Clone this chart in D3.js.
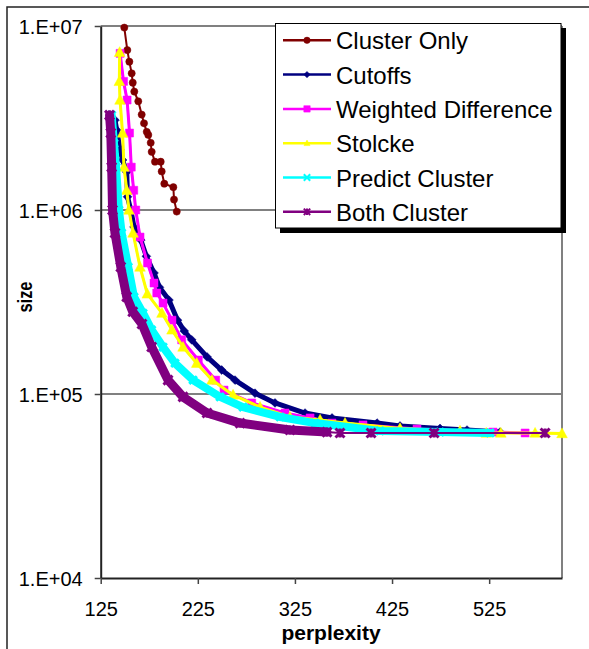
<!DOCTYPE html>
<html>
<head>
<meta charset="utf-8">
<script src="https://cdn.jsdelivr.net/npm/d3@7/dist/d3.min.js"></script>
<style>
  html, body { margin: 0; padding: 0; background: #fff; }
  svg { display: block; }
  text { font-family: "Liberation Sans", Arial, sans-serif; fill: #000; }
</style>
</head>
<body>
<svg id="chart" width="589" height="649"></svg>
<script>
// ---------- data ----------
const perplexityTicks = [125, 225, 325, 425, 525];
const sizeTicks = [1e4, 1e5, 1e6, 1e7];
const sizeTickLabels = ["1.E+04", "1.E+05", "1.E+06", "1.E+07"];
const seriesNames = ["Cluster Only", "Cutoffs", "Weighted Difference", "Stolcke", "Predict Cluster", "Both Cluster"];

// [perplexity, size]
const clusterOnly = [
  [149.3, 9.8e6], [152.4, 7.4e6], [154.5, 6.4e6], [156.9, 5.53e6], [158.0, 4.92e6],
  [159.6, 4.40e6], [163.7, 3.9e6], [167.2, 3.3e6], [169.6, 2.96e6], [172.4, 2.66e6],
  [174.0, 2.56e6], [176.5, 2.32e6], [177.5, 2.07e6], [180.9, 1.83e6], [186.8, 1.83e6],
  [187.8, 1.62e6], [190.5, 1.39e6], [199.8, 1.33e6], [200.5, 1.14e6], [203.3, 0.98e6]
];
const cutoffs = [
  [139.7, 3.08e6], [141.5, 2.72e6], [144.9, 2.12e6], [147.5, 1.87e6], [151.8, 1.61e6],
  [152.6, 1.18e6], [156.0, 1.0e6], [159.3, 8.09e5], [166.3, 6.87e5], [172.0, 5.6e5],
  [179.9, 4.55e5], [185.5, 3.8e5], [195.3, 3.24e5], [204.1, 2.52e5], [211.0, 2.2e5],
  [218.7, 1.97e5], [234.5, 1.59e5], [249.6, 1.35e5], [263.3, 1.19e5], [283.9, 1.01e5],
  [304.5, 8.94e4], [335.4, 7.88e4], [363.2, 7.41e4], [409.6, 6.95e4], [433.2, 6.7e4],
  [474.4, 6.5e4], [502.2, 6.37e4], [536.2, 6.21e4]
];
const weightedDifference = [
  [145.0, 7.1e6], [148.5, 5.0e6], [152.2, 3.96e6], [154.7, 2.62e6], [156.5, 1.71e6],
  [159.0, 1.28e6], [161.1, 1.0e6], [165.5, 7.13e5], [173.2, 5.15e5], [179.9, 4.01e5],
  [182.7, 3.54e5], [189.2, 3.12e5], [198.4, 2.52e5], [208.4, 1.97e5], [225.5, 1.53e5],
  [243.4, 1.19e5], [252.0, 1.05e5], [280.5, 8.94e4], [314.8, 7.88e4], [340.6, 7.41e4],
  [363.2, 6.95e4], [395.1, 6.79e4], [450.7, 6.45e4], [529.0, 6.21e4], [562.0, 6.14e4]
];
const stolcke = [
  [144.5, 7.2e6], [144.2, 5.0e6], [144.9, 3.96e6], [147.5, 2.62e6], [149.0, 1.71e6],
  [151.8, 1.28e6], [154.1, 1.0e6], [158.3, 7.5e5], [165.5, 4.9e5], [173.0, 3.5e5],
  [188.1, 2.75e5], [198.4, 2.23e5], [209.8, 1.80e5], [223.9, 1.47e5], [239.6, 1.19e5],
  [261.3, 9.88e4], [289.1, 8.49e4], [319.9, 7.5e4], [350.9, 7.23e4], [376.6, 6.95e4],
  [433.2, 6.5e4], [495.0, 6.3e4], [522.0, 6.14e4], [537.0, 6.14e4], [572.3, 6.14e4],
  [600.0, 6.1e4]
];
const predictCluster = [
  [136.3, 3.28e6], [138.7, 2.3e6], [140.8, 1.71e6], [143.8, 1.0e6], [146.6, 7.5e5],
  [153.4, 4.9e5], [159.3, 3.37e5], [168.6, 2.75e5], [177.5, 2.23e5], [189.2, 1.80e5],
  [201.5, 1.47e5], [220.1, 1.19e5], [247.9, 9.64e4], [271.5, 8.49e4], [309.7, 7.5e4],
  [345.7, 6.95e4], [412.6, 6.3e4], [474.4, 6.21e4], [526.0, 6.14e4]
];
const bothCluster = [
  [134.1, 3.28e6], [135.4, 2.62e6], [136.3, 1.71e6], [137.2, 1.0e6], [139.7, 7.5e5],
  [145.7, 4.9e5], [151.8, 3.37e5], [158.0, 2.8e5], [167.5, 2.4e5], [177.5, 1.80e5],
  [194.3, 1.19e5], [209.8, 9.64e4], [234.5, 7.88e4], [268.5, 6.95e4], [319.9, 6.37e4],
  [358.0, 6.21e4], [371.4, 6.14e4], [403.4, 6.14e4], [468.3, 6.14e4], [582.6, 6.14e4]
];
const seriesData = [clusterOnly, cutoffs, weightedDifference, stolcke, predictCluster, bothCluster];

// ---------- styles ----------
// bandTo: up to which perplexity the densely packed markers form a thick band
const styles = [
  { color: "#800000", marker: "circle",   size: 3.6, lineW: 2, bandTo: 0 },
  { color: "#000080", marker: "diamond",  size: 4.4, lineW: 5, bandTo: 9999 },
  { color: "#FF00FF", marker: "square",   size: 4.0, lineW: 3, bandTo: 9999 },
  { color: "#FFFF00", marker: "triangle", size: 5.6, lineW: 3, bandTo: 9999 },
  { color: "#00FFFF", marker: "x",        size: 3.8, lineW: 8, bandTo: 9999 },
  { color: "#800080", marker: "star",     size: 4.5, lineW: 9, bandTo: 361 }
];

function markerPath(type, s) {
  switch (type) {
    case "circle":   return `M${s},0A${s},${s} 0 1,1 ${-s},0A${s},${s} 0 1,1 ${s},0Z`;
    case "diamond":  return `M0,${-s}L${s},0L0,${s}L${-s},0Z`;
    case "square":   return `M${-s},${-s}h${2*s}v${2*s}h${-2*s}Z`;
    case "triangle": return `M0,${-s}L${s*0.95},${s*0.75}L${-s*0.95},${s*0.75}Z`;
    case "x":        return `M${-s},${-s}L${s},${s}M${-s},${s}L${s},${-s}`;
    case "star":     return `M${-s},${-s}L${s},${s}M${-s},${s}L${s},${-s}M0,${-s}V${s}`;
  }
}
const stroked = t => t === "x" || t === "star";

// ---------- layout ----------
const svg = d3.select("#chart");
const plotL = 100.7, plotR = 562, plotT = 26, plotB = 578;

const x = d3.scaleLinear().domain([125, 600]).range([plotL, plotR]);
const y = d3.scaleLog().domain([1e4, 1e7]).range([plotB, plotT]);

svg.append("rect").attr("width", 589).attr("height", 649).attr("fill", "#fff");
// outer chart frame
svg.append("rect").attr("x", 7).attr("y", 7).attr("width", 700).attr("height", 700)
  .attr("fill", "none").attr("stroke", "#222").attr("stroke-width", 1.5);

// gridlines
svg.append("g").selectAll("line").data(sizeTicks.slice(1)).join("line")
  .attr("x1", plotL).attr("x2", plotR)
  .attr("y1", d => y(d)).attr("y2", d => y(d))
  .attr("stroke", "#808080").attr("stroke-width", 2);
// right border
svg.append("line").attr("x1", plotR).attr("x2", plotR).attr("y1", plotT).attr("y2", plotB)
  .attr("stroke", "#808080").attr("stroke-width", 2);

// axes
const yAxis = svg.append("g").attr("transform", `translate(${plotL},0)`)
  .call(d3.axisLeft(y).tickValues(sizeTicks).tickSize(6).tickSizeOuter(0).tickPadding(12)
    .tickFormat((d, i) => sizeTickLabels[i]));
const xAxis = svg.append("g").attr("transform", `translate(0,${plotB})`)
  .call(d3.axisBottom(x).tickValues(perplexityTicks).tickSize(6).tickSizeOuter(0)
    .tickFormat(d3.format("d")));
[yAxis, xAxis].forEach(a => {
  a.select(".domain").attr("stroke", "#222").attr("stroke-width", 2);
  a.selectAll(".tick line").attr("stroke", "#444").attr("stroke-width", 1.5);
  a.selectAll("text").style("font-family", '"Liberation Sans", Arial, sans-serif')
    .style("font-size", "20px").attr("fill", "#000");
});
yAxis.selectAll("text").attr("dy", "0.35em");
xAxis.selectAll("text").attr("y", 38).attr("dy", 0);

// axis titles
svg.append("text").attr("x", 331).attr("y", 640).attr("text-anchor", "middle")
  .style("font-size", "21px").style("font-weight", "bold").text("perplexity");
svg.append("text").attr("transform", "translate(32,297) rotate(-90)").attr("text-anchor", "middle")
  .attr("textLength", 31).attr("lengthAdjust", "spacingAndGlyphs")
  .style("font-size", "20px").style("font-weight", "bold").text("size");

// series
const line = d3.line().x(d => x(d[0])).y(d => y(d[1]));
seriesData.forEach((data, i) => {
  const st = styles[i];
  const g = svg.append("g");
  g.append("path").datum(data).attr("d", line)
    .attr("fill", "none").attr("stroke", st.color).attr("stroke-width", 2)
    .attr("stroke-linejoin", "round").attr("stroke-linecap", "round");
  const band = data.filter(d => d[0] <= st.bandTo);
  if (band.length > 1) {
    g.append("path").datum(band).attr("d", line)
      .attr("fill", "none").attr("stroke", st.color).attr("stroke-width", st.lineW)
      .attr("stroke-linejoin", "round").attr("stroke-linecap", "round");
  }
  g.selectAll("path.m").data(data).join("path").attr("class", "m")
    .attr("transform", d => `translate(${x(d[0])},${y(d[1])})`)
    .attr("d", markerPath(st.marker, st.size))
    .attr("fill", stroked(st.marker) ? "none" : st.color)
    .attr("stroke", st.color).attr("stroke-width", stroked(st.marker) ? 3 : 0.5);
});

// legend
const lg = svg.append("g");
lg.append("rect").attr("x", 280).attr("y", 28).attr("width", 286).attr("height", 205).attr("fill", "#000");
lg.append("rect").attr("x", 275.5).attr("y", 23.5).attr("width", 285.5).attr("height", 204.5)
  .attr("fill", "#fff").attr("stroke", "#000").attr("stroke-width", 1);
seriesNames.forEach((name, i) => {
  const st = styles[i];
  const cy = 40.3 + i * 34.3;
  lg.append("line").attr("x1", 283).attr("x2", 331).attr("y1", cy).attr("y2", cy)
    .attr("stroke", st.color).attr("stroke-width", 2.5);
  lg.append("path").attr("transform", `translate(307,${cy})`)
    .attr("d", markerPath(st.marker, 3.2))
    .attr("fill", stroked(st.marker) ? "none" : st.color)
    .attr("stroke", st.color).attr("stroke-width", stroked(st.marker) ? 2 : 0.5);
  lg.append("text").attr("x", 336).attr("y", cy + 9).style("font-size", "24px").text(name);
});
</script>
</body>
</html>
